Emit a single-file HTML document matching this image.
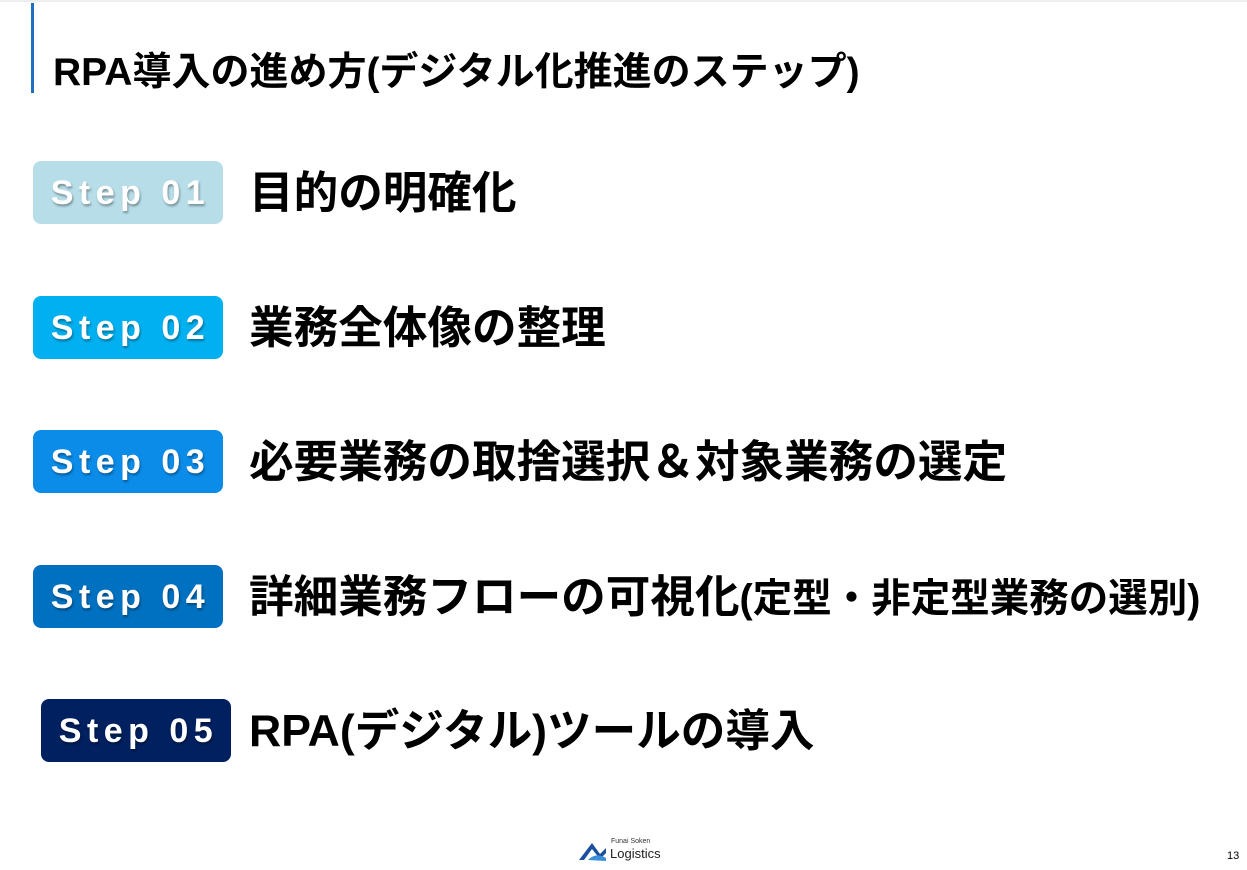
<!DOCTYPE html>
<html><head><meta charset="utf-8"><style>
body{margin:0;width:1247px;height:870px;background:#fff;position:relative;overflow:hidden;font-family:"Liberation Sans","Noto Sans CJK JP",sans-serif;}
.top{position:absolute;left:0;top:0;width:1247px;height:2px;background:#eee}
.bar{position:absolute;left:31px;top:3px;width:3px;height:90px;background:#1f6fbf}
h1{position:absolute;left:53px;top:48px;margin:0;font-size:39px;font-weight:bold;color:#000;white-space:nowrap;line-height:50px}
.b{position:absolute;width:190px;height:63px;border-radius:8px;color:#fff;font-weight:bold;font-size:34px;letter-spacing:5.5px;text-indent:5px;text-align:center;line-height:65px;text-shadow:1px 2px 2px rgba(0,0,0,.35)}
.t{position:absolute;left:249px;font-size:44.6px;font-weight:bold;white-space:nowrap;line-height:66px;color:#000}
.t small{font-size:39.5px}
.logo{position:absolute;left:578px;top:838px}
.pn{position:absolute;left:1227px;top:850px;font-size:11px;color:#000}
</style></head><body>
<div class="top"></div><div class="bar"></div>
<h1>RPA導入の進め方(デジタル化推進のステップ)</h1>
<div class="b" style="left:33px;top:161px;background:#b7dde8">Step 01</div>
<div class="t" style="top:161px">目的の明確化</div>
<div class="b" style="left:33px;top:296px;background:#00b0f0">Step 02</div>
<div class="t" style="top:296px">業務全体像の整理</div>
<div class="b" style="left:33px;top:430px;background:#0b8ce9">Step 03</div>
<div class="t" style="top:430px">必要業務の取捨選択＆対象業務の選定</div>
<div class="b" style="left:33px;top:565px;background:#0070c0">Step 04</div>
<div class="t" style="top:565px">詳細業務フローの可視化<small>(定型・非定型業務の選別)</small></div>
<div class="b" style="left:41px;top:699px;background:#002060">Step 05</div>
<div class="t" style="top:699px">RPA(デジタル)ツールの導入</div>
<div class="logo">
<svg width="30" height="22" style="position:absolute;left:0;top:2px"><path d="M1 20 L14 3 L22 14 L28 8 L28 13 L22 19 L14 9 L6 20 Z" fill="#1a4fa0"/><path d="M10 20 Q18 12 28 18 L28 21 Z" fill="#3a8fd8"/></svg>
<div style="position:absolute;left:33px;top:0;font-size:7px;color:#333;white-space:nowrap">Funai Soken</div>
<div style="position:absolute;left:32px;top:8px;font-size:13px;color:#222;white-space:nowrap">Logistics</div>
</div>
<div class="pn">13</div>
</body></html>
